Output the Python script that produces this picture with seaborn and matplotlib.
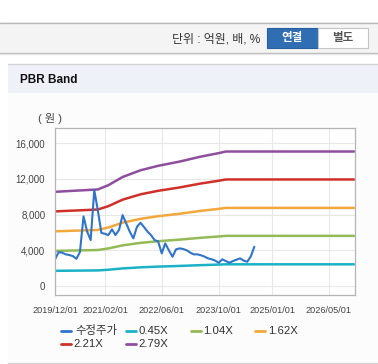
import matplotlib
matplotlib.use("Agg")
import matplotlib.pyplot as plt
from matplotlib.patches import Rectangle
from matplotlib.lines import Line2D
import seaborn as sns
import pandas as pd

# ---------------- data ----------------
price_start = "2019-12-01"
price_values = [2990, 3800, 3730, 3550, 3470, 3360, 3050, 3800, 7800, 6100, 5150, 10750,
                8500, 5950, 5850, 5710, 6350, 5710, 6300, 7950, 7020, 6080, 5340, 6640,
                7090, 6600, 6080, 5710, 5150, 5000, 3660, 4780, 4000, 3280, 4110, 4220,
                4150, 4000, 3730, 3550, 3550, 3450, 3300, 3100, 3000, 2850, 2610, 2990,
                2800, 2610, 2800, 2950, 3100, 2850, 2720, 3300, 4400]

bps_dates = ["2019-12-01", "2020-12-01", "2021-03-01", "2021-07-01", "2021-12-01",
             "2022-05-01", "2022-11-01", "2023-05-01", "2023-10-01", "2023-12-01",
             "2026-12-01"]
bps_values = [3785, 3880, 4050, 4380, 4650, 4830, 5000, 5200, 5340, 5405, 5405]

multiples = [0.45, 1.04, 1.62, 2.21, 2.79]
band_labels = ["0.45X", "1.04X", "1.62X", "2.21X", "2.79X"]
price_label = "수정주가"

xtick_labels = ["2019/12/01", "2021/02/01", "2022/06/01", "2023/10/01", "2025/01/01", "2026/05/01"]
yticks = [0, 4000, 8000, 12000, 16000]

colors = {"수정주가": "#2f74c8", "0.45X": "#1bb2c8", "1.04X": "#93ba57",
          "1.62X": "#f3a83c", "2.21X": "#cf3029", "2.79X": "#8e4e9c"}

# ---------------- build tables ----------------
price_df = pd.DataFrame({
    "date": pd.date_range(price_start, periods=len(price_values), freq="MS"),
    "value": price_values, "series": price_label})
band_rows = []
for m, lab in zip(multiples, band_labels):
    for d, b in zip(bps_dates, bps_values):
        band_rows.append({"date": pd.Timestamp(d), "value": b * m, "series": lab})
band_df = pd.DataFrame(band_rows)

# ---------------- figure ----------------
sns.set_theme(style="white")
plt.rcParams["font.family"] = ["Liberation Sans", "Noto Sans CJK KR", "DejaVu Sans"]

W, H = 378, 364
fig = plt.figure(figsize=(W / 100, H / 100), dpi=100)
fig.patch.set_facecolor("white")

def fx(x): return x / W
def fy(y): return 1 - y / H

def frect(x0, y0, x1, y1, zorder=-10, **kw):
    r = Rectangle((fx(x0), fy(y1)), fx(x1) - fx(x0), fy(y0) - fy(y1),
                  transform=fig.transFigure, zorder=zorder, **kw)
    fig.add_artist(r)
    return r

def fline(x0, y0, x1, y1, zorder=-5, **kw):
    fig.add_artist(Line2D([fx(x0), fx(x1)], [fy(y0), fy(y1)], transform=fig.transFigure,
                          zorder=zorder, **kw))

# top toolbar
frect(0, 22.5, W, 53, facecolor="#f4f4f4", edgecolor="none")
fline(0, 22.5, W, 22.5, color="#b8b8b8", lw=1)
fline(0, 53, W, 53, color="#b8b8b8", lw=1)
fline(0, 54.2, W, 54.2, color="#e6e6e6", lw=1)
fig.text(fx(260), fy(39.5), "단위 : 억원, 배, %", ha="right", va="center", fontsize=8.6, color="#333333")
frect(267, 28.5, 318, 47.5, zorder=-4, facecolor="#2f6eb2", edgecolor="#285f9c", lw=0.8)
fig.text(fx(292.5), fy(38.5), "연결", ha="center", va="center", fontsize=8.3, color="white", fontweight="bold")
frect(318, 28.5, 368, 47.5, zorder=-4, facecolor="white", edgecolor="#c4c4c4", lw=0.8)
fig.text(fx(343), fy(38.5), "별도", ha="center", va="center", fontsize=8.3, color="#555555", fontweight="bold")

# panel
frect(8, 64, W + 2, 93, facecolor="#eef2f8", edgecolor="none")
frect(8, 93, W + 2, 362.5, facecolor="#fcfcfc", edgecolor="none")
fline(8, 64, W, 64, color="#d4d4d4", lw=1)
fline(8, 362.5, W, 362.5, color="#d4d4d4", lw=1)
fig.text(fx(19.5), fy(80), "PBR Band", ha="left", va="center", fontsize=8.5, color="#111111", fontweight="bold")
fig.text(fx(37.5), fy(118.5), "( 원 )", ha="left", va="center", fontsize=8, color="#444444")

# plot area
ax = fig.add_axes([fx(55), fy(295), fx(355) - fx(55), fy(128) - fy(295)])
ax.set_facecolor("white")

order = band_labels
sns.lineplot(data=band_df, x="date", y="value", hue="series", hue_order=order,
             palette=[colors[k] for k in order], linewidth=1.8, legend=False, ax=ax)
sns.lineplot(data=price_df, x="date", y="value", color=colors[price_label],
             linewidth=1.5, legend=False, ax=ax)

ax.set_xlim(pd.Timestamp("2019-12-01"), pd.Timestamp("2026-12-10"))
ax.set_ylim(-1009, 17716)
ax.set_xticks([pd.Timestamp(s.replace("/", "-")) for s in xtick_labels])
ax.set_xticklabels(xtick_labels)
ax.set_yticks(yticks)
ax.set_yticklabels([f"{v:,}" for v in yticks])
ax.set_xlabel("")
ax.set_ylabel("")
ax.grid(True, color="#e8e8e8", lw=0.8)
ax.set_axisbelow(True)
for s in ax.spines.values():
    s.set_color("#b4b4b4")
    s.set_linewidth(0.9)
ax.tick_params(axis="x", labelsize=6.6, colors="#b4b4b4", labelcolor="#444444",
               length=3, width=0.8, pad=5)
ax.tick_params(axis="y", labelsize=7.0, colors="#b4b4b4", labelcolor="#444444",
               length=0, pad=7)

# legend (manual)
leg_items = [(price_label, 60.5, 75, 330.5), ("0.45X", 126, 138.5, 330.5),
             ("1.04X", 190.5, 203.5, 330.5), ("1.62X", 255, 268.5, 330.5),
             ("2.21X", 60.5, 73.5, 344), ("2.79X", 126, 138.5, 344)]
for lab, lx, tx, ly in leg_items:
    fline(lx, ly, lx + 10, ly, zorder=3, color=colors[lab], lw=2)
    fig.text(fx(tx), fy(ly), lab, ha="left", va="center", fontsize=8.2, color="#333333")

fig.savefig("out.png", dpi=100)
